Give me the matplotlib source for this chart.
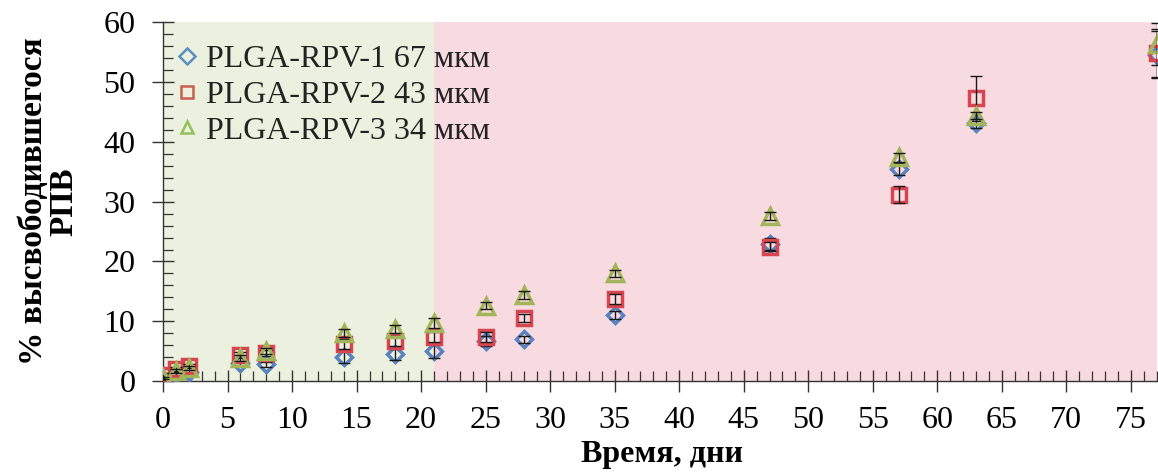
import numpy as np
import matplotlib
matplotlib.use("Agg")
import matplotlib.pyplot as plt
from matplotlib.ticker import MultipleLocator

plt.rcParams['font.family'] = ['Liberation Serif', 'DejaVu Serif']

# время отбора проб, дни
days = [0, 1, 2, 6, 8, 14, 18, 21, 25, 28, 35, 47, 57, 63, 77]

# % высвободившегося РПВ и отклонения
rpv1 = [0.3, 1.2, 1.6, 3.0, 2.8, 4.0, 4.5, 5.0, 6.7, 7.0, 11.0, 23.0, 35.4, 43.1, 54.6]
rpv1_err = [0.2, 0.3, 0.3, 0.4, 0.4, 1.0, 0.9, 1.2, 0.8, 0.6, 0.7, 1.0, 1.0, 0.8, 4.0]
rpv2 = [1.1, 2.0, 2.5, 4.3, 4.7, 6.2, 6.7, 7.4, 7.4, 10.6, 13.7, 22.5, 31.2, 47.3, 54.8]
rpv2_err = [0.2, 0.3, 0.3, 0.5, 0.5, 0.8, 0.8, 0.8, 0.8, 0.7, 0.8, 0.7, 1.5, 3.8, 4.0]
rpv3 = [0.5, 1.7, 2.2, 3.8, 5.0, 8.0, 8.7, 9.7, 12.6, 14.4, 18.0, 27.6, 37.4, 44.4, 56.3]
rpv3_err = [0.2, 0.3, 0.3, 0.5, 0.5, 0.7, 0.7, 0.8, 0.6, 0.6, 0.6, 0.6, 0.8, 0.6, 3.5]

labels = ['PLGA-RPV-1 67 мкм', 'PLGA-RPV-2 43 мкм', 'PLGA-RPV-3 34 мкм']

fig = plt.figure(figsize=(11.58, 4.74), dpi=100)
ax = fig.add_axes([0.1408, 0.196, 0.858, 0.757])

# фазы высвобождения
ax.axvspan(0, 21, color='#ebf1de', zorder=0, lw=0)
ax.axvspan(21, 77, color='#f7dbe0', zorder=0, lw=0)

series = [
    (rpv1, rpv1_err, 'D', '#5a82c0', '#5b8fbf', 8.5),
    (rpv2, rpv2_err, 's', '#d64550', '#c8604b', 10.0),
    (rpv3, rpv3_err, '^', '#a3b55a', '#93c05a', 11.5),
]
for i, (vals, err, m, col, legcol, ms) in enumerate(series):
    ax.plot(days, vals, ls='none', marker=m, ms=ms, mfc='none', mec=col,
            mew=2.5, zorder=3 + i)
    ax.errorbar(days, vals, yerr=err, fmt='none', ecolor='#1a1a1a',
                elinewidth=1.0, capsize=4, capthick=1.0, zorder=3 + i)
    # отдельный маркер для легенды
    ax.plot([], [], ls='none', marker=m, ms=8, mfc='none', mec=legcol,
            mew=1.8, label=labels[i])

ax.set_xlim(0, 77)
ax.set_ylim(0, 60)
ax.xaxis.set_major_locator(MultipleLocator(5))
ax.xaxis.set_minor_locator(MultipleLocator(1))
ax.yaxis.set_major_locator(MultipleLocator(10))
ax.yaxis.set_minor_locator(MultipleLocator(2))

for side in ['top', 'right']:
    ax.spines[side].set_visible(False)
for side in ['left', 'bottom']:
    ax.spines[side].set_color('#333333')
    ax.spines[side].set_linewidth(1.0)

ax.tick_params(axis='both', which='major', direction='inout', length=16,
               width=1.0, color='#333333', labelsize=23)
ax.tick_params(axis='both', which='minor', direction='in', length=7,
               width=0.9, color='#333333')
ax.tick_params(axis='x', which='major', pad=10)
ax.tick_params(axis='y', which='major', pad=12)

ax.set_xlabel('Время, дни', fontsize=23, fontweight='bold')
ax.xaxis.set_label_coords(0.502, -0.165)
ax.set_ylabel('% высвободившегося\nРПВ', fontsize=24, fontweight='bold',
              linespacing=1.0)
ax.yaxis.set_label_coords(-0.084, 0.5)

leg = ax.legend(loc='upper left', bbox_to_anchor=(-0.008, 1.0), frameon=False,
                fontsize=23, handlelength=0.6, handletextpad=0.3,
                labelspacing=0.2, borderaxespad=0.3)
for t in leg.get_texts():
    t.set_color('#222222')

fig.savefig('out.png', dpi=100)
